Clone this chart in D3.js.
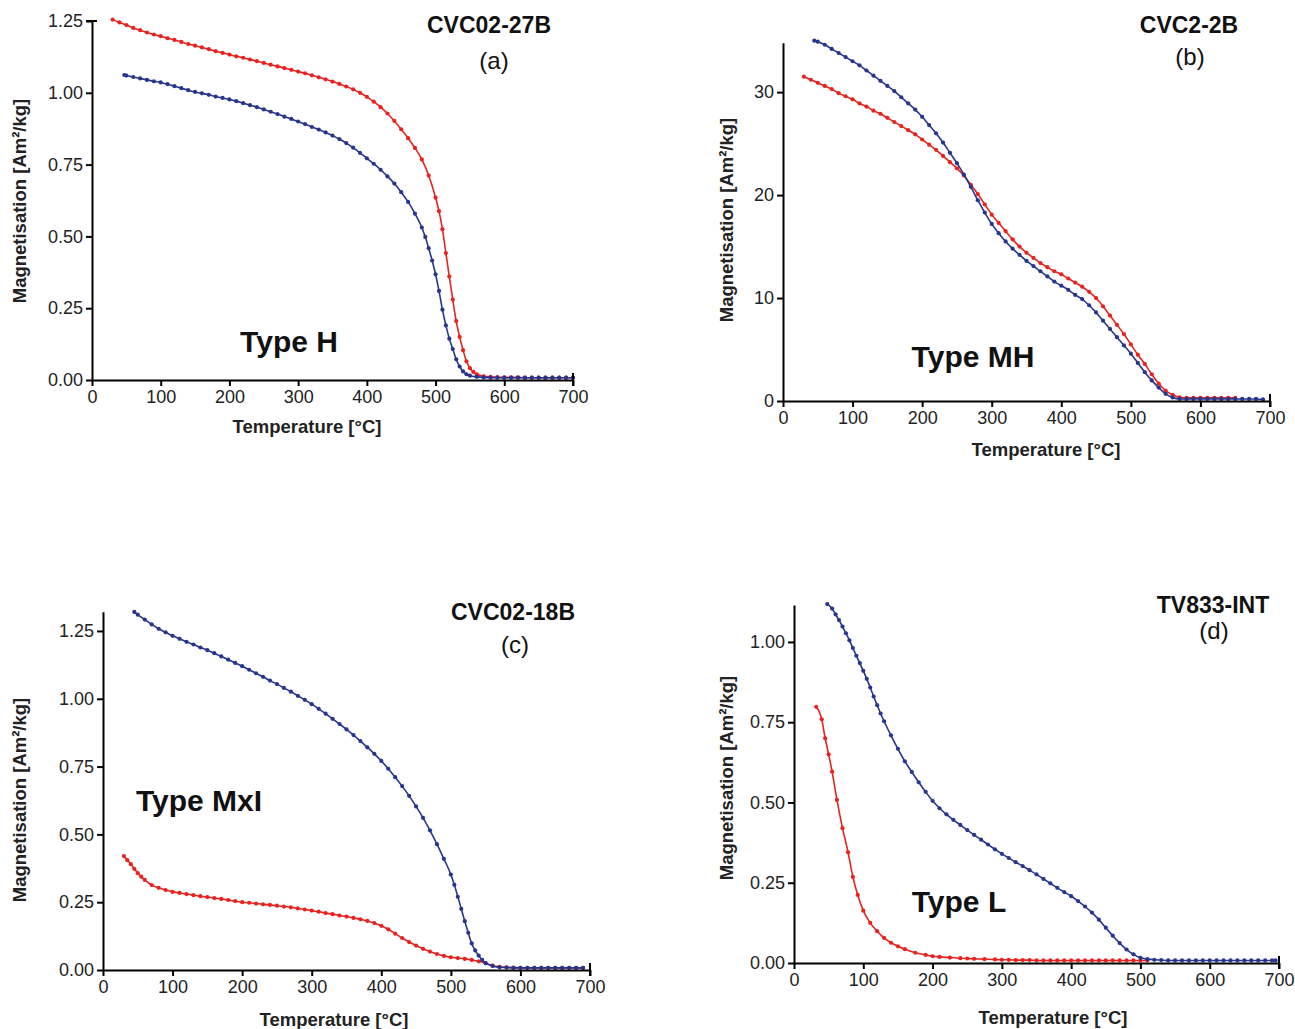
<!DOCTYPE html>
<html>
<head>
<meta charset="utf-8">
<script src="https://cdn.jsdelivr.net/npm/d3@7"></script>
<style>
  body { margin: 0; background: #fff; }
  svg text { font-family: 'Liberation Sans', Arial, sans-serif; }
</style>
</head>
<body>
<script>
/* global d3 */
var xTicks = [0, 100, 200, 300, 400, 500, 600, 700]
var yTicksFrac = [0, 0.25, 0.5, 0.75, 1.0, 1.25]
var yTicksB = [0, 10, 20, 30]
var yTicksD = [0, 0.25, 0.5, 0.75, 1.0]

// (a) CVC02-27B, Type H  [temperature, magnetisation]
var aRed = [[30, 1.255], [40, 1.245], [50, 1.236], [60, 1.226], [70, 1.218], [80, 1.210], [90, 1.203],
  [100, 1.197], [110, 1.190], [120, 1.184], [130, 1.177], [140, 1.170], [150, 1.164], [160, 1.158],
  [170, 1.152], [180, 1.145], [190, 1.139], [200, 1.133], [210, 1.127], [220, 1.122], [230, 1.116],
  [240, 1.110], [250, 1.104], [260, 1.098], [270, 1.092], [280, 1.086], [290, 1.080], [300, 1.074],
  [310, 1.068], [320, 1.061], [330, 1.054], [340, 1.047], [350, 1.039], [360, 1.031], [370, 1.022],
  [380, 1.012], [390, 1.000], [400, 0.986], [410, 0.969], [420, 0.950], [430, 0.928], [440, 0.902],
  [450, 0.873], [460, 0.842], [470, 0.808], [480, 0.768], [490, 0.712], [500, 0.635], [505, 0.588],
  [510, 0.525], [515, 0.442], [520, 0.360], [525, 0.280], [530, 0.205], [535, 0.150], [540, 0.104],
  [545, 0.065], [550, 0.041], [555, 0.028], [560, 0.020], [570, 0.013], [580, 0.011], [590, 0.010],
  [600, 0.009], [610, 0.009], [620, 0.009], [630, 0.008], [640, 0.008], [650, 0.008], [660, 0.008],
  [670, 0.008], [680, 0.008], [690, 0.008], [700, 0.008]]
var aBlue = [[47, 1.062], [50, 1.060], [60, 1.055], [70, 1.050], [80, 1.045], [90, 1.040], [100, 1.036],
  [110, 1.030], [120, 1.023], [130, 1.016], [140, 1.009], [150, 1.003], [160, 0.998], [170, 0.993],
  [180, 0.987], [190, 0.982], [200, 0.977], [210, 0.971], [220, 0.964], [230, 0.957], [240, 0.950],
  [250, 0.942], [260, 0.934], [270, 0.926], [280, 0.917], [290, 0.909], [300, 0.900], [310, 0.891],
  [320, 0.881], [330, 0.872], [340, 0.862], [350, 0.851], [360, 0.839], [370, 0.825], [380, 0.809],
  [390, 0.791], [400, 0.772], [410, 0.753], [420, 0.732], [430, 0.709], [440, 0.684], [450, 0.654],
  [460, 0.620], [470, 0.579], [480, 0.531], [485, 0.498], [490, 0.459], [495, 0.416], [500, 0.368],
  [505, 0.310], [510, 0.245], [515, 0.190], [520, 0.144], [525, 0.108], [530, 0.072], [535, 0.047],
  [540, 0.030], [545, 0.020], [550, 0.015], [560, 0.011], [570, 0.009], [580, 0.008], [590, 0.008],
  [600, 0.008], [610, 0.008], [620, 0.008], [630, 0.008], [640, 0.008], [650, 0.008], [660, 0.008],
  [670, 0.008], [680, 0.008], [690, 0.008], [700, 0.008]]

// (b) CVC2-2B, Type MH
var bRed = [[30, 31.5], [40, 31.2], [50, 30.9], [60, 30.6], [70, 30.3], [80, 29.9], [90, 29.6],
  [100, 29.3], [110, 28.9], [120, 28.6], [130, 28.2], [140, 27.9], [150, 27.5], [160, 27.1],
  [170, 26.7], [180, 26.3], [190, 25.9], [200, 25.4], [210, 24.9], [220, 24.4], [230, 23.8],
  [240, 23.2], [250, 22.6], [260, 21.9], [270, 21.0], [280, 20.1], [290, 19.1], [300, 18.1],
  [310, 17.3], [320, 16.5], [330, 15.7], [340, 15.0], [350, 14.4], [360, 13.9], [370, 13.4],
  [380, 13.0], [390, 12.6], [400, 12.3], [410, 11.9], [420, 11.5], [430, 11.1], [440, 10.6],
  [450, 10.0], [460, 9.2], [470, 8.3], [480, 7.4], [490, 6.5], [500, 5.5], [510, 4.5], [520, 3.6],
  [530, 2.6], [540, 1.7], [550, 1.0], [560, 0.6], [570, 0.35], [580, 0.3], [590, 0.3], [600, 0.3],
  [610, 0.3], [620, 0.3], [630, 0.3], [640, 0.3], [650, 0.3]]
var bBlue = [[45, 35.0], [50, 34.9], [60, 34.6], [70, 34.2], [80, 33.8], [90, 33.4], [100, 33.0],
  [110, 32.6], [120, 32.1], [130, 31.6], [140, 31.1], [150, 30.6], [160, 30.1], [170, 29.5],
  [180, 28.9], [190, 28.3], [200, 27.6], [210, 26.8], [220, 26.0], [230, 25.1], [240, 24.1],
  [250, 23.1], [260, 22.0], [270, 20.8], [280, 19.5], [290, 18.3], [300, 17.2], [310, 16.3],
  [320, 15.5], [330, 14.8], [340, 14.2], [350, 13.6], [360, 13.1], [370, 12.6], [380, 12.1],
  [390, 11.6], [400, 11.2], [410, 10.8], [420, 10.3], [430, 9.9], [440, 9.3], [450, 8.6],
  [460, 7.8], [470, 7.0], [480, 6.2], [490, 5.4], [500, 4.6], [510, 3.7], [520, 2.8], [530, 2.0],
  [540, 1.3], [550, 0.7], [560, 0.35], [570, 0.2], [580, 0.2], [590, 0.2], [600, 0.2], [610, 0.2],
  [620, 0.2], [630, 0.2], [640, 0.2], [650, 0.2], [660, 0.2], [670, 0.2], [680, 0.2], [690, 0.15]]

// (c) CVC02-18B, Type MxI
var cRed = [[30, 0.420], [35, 0.405], [40, 0.390], [45, 0.373], [50, 0.357], [55, 0.344], [60, 0.332],
  [70, 0.313], [80, 0.303], [90, 0.295], [100, 0.288], [110, 0.284], [120, 0.280], [130, 0.276],
  [140, 0.272], [150, 0.269], [160, 0.265], [170, 0.262], [180, 0.258], [190, 0.254], [200, 0.250],
  [210, 0.248], [220, 0.245], [230, 0.242], [240, 0.240], [250, 0.237], [260, 0.234], [270, 0.231],
  [280, 0.227], [290, 0.223], [300, 0.219], [310, 0.215], [320, 0.210], [330, 0.206], [340, 0.201],
  [350, 0.197], [360, 0.192], [370, 0.187], [380, 0.181], [390, 0.173], [400, 0.163], [410, 0.150],
  [420, 0.134], [430, 0.118], [440, 0.103], [450, 0.090], [460, 0.078], [470, 0.068], [480, 0.059],
  [490, 0.052], [500, 0.047], [510, 0.044], [520, 0.041], [530, 0.037], [540, 0.032], [550, 0.025],
  [560, 0.016], [570, 0.012], [580, 0.010], [590, 0.009], [600, 0.008], [610, 0.008], [620, 0.008],
  [630, 0.008], [640, 0.008], [650, 0.008], [660, 0.008], [670, 0.008], [680, 0.008], [690, 0.008]]
var cBlue = [[45, 1.320], [50, 1.310], [60, 1.292], [70, 1.274], [80, 1.258], [90, 1.245], [100, 1.232],
  [110, 1.221], [120, 1.210], [130, 1.200], [140, 1.189], [150, 1.179], [160, 1.168], [170, 1.156],
  [180, 1.144], [190, 1.132], [200, 1.120], [210, 1.107], [220, 1.094], [230, 1.081], [240, 1.067],
  [250, 1.054], [260, 1.040], [270, 1.026], [280, 1.011], [290, 0.996], [300, 0.980], [310, 0.963],
  [320, 0.945], [330, 0.926], [340, 0.907], [350, 0.887], [360, 0.866], [370, 0.844], [380, 0.821],
  [390, 0.797], [400, 0.771], [410, 0.742], [420, 0.711], [430, 0.678], [440, 0.642], [450, 0.603],
  [460, 0.561], [470, 0.515], [480, 0.464], [490, 0.410], [500, 0.352], [505, 0.314], [510, 0.270],
  [515, 0.225], [520, 0.180], [525, 0.137], [530, 0.098], [535, 0.072], [540, 0.053], [545, 0.037],
  [550, 0.025], [560, 0.015], [570, 0.010], [580, 0.009], [590, 0.008], [600, 0.008], [610, 0.008],
  [620, 0.008], [630, 0.008], [640, 0.008], [650, 0.008], [660, 0.008], [670, 0.008], [680, 0.008],
  [690, 0.008]]

// (d) TV833-INT, Type L
var dRed = [[32, 0.798], [40, 0.759], [45, 0.700], [50, 0.650], [55, 0.596], [62, 0.508], [70, 0.420],
  [78, 0.345], [85, 0.268], [92, 0.212], [100, 0.163], [110, 0.125], [120, 0.099], [130, 0.078],
  [140, 0.063], [150, 0.052], [160, 0.043], [175, 0.032], [190, 0.025], [200, 0.021], [210, 0.019],
  [225, 0.017], [240, 0.015], [250, 0.014], [260, 0.013], [275, 0.012], [290, 0.011], [300, 0.010],
  [310, 0.010], [320, 0.009], [330, 0.009], [340, 0.009], [350, 0.008], [360, 0.008], [370, 0.008],
  [380, 0.008], [390, 0.008], [400, 0.008], [410, 0.008], [420, 0.008], [430, 0.008], [440, 0.008],
  [450, 0.008], [460, 0.008], [470, 0.008], [480, 0.008], [490, 0.008], [500, 0.008], [510, 0.008]]
var dBlue = [[48, 1.118], [55, 1.104], [60, 1.086], [65, 1.068], [70, 1.048], [75, 1.027], [80, 1.005],
  [85, 0.981], [90, 0.957], [95, 0.934], [100, 0.910], [105, 0.885], [110, 0.858], [115, 0.830],
  [120, 0.803], [125, 0.777], [130, 0.753], [140, 0.709], [150, 0.667], [160, 0.628], [170, 0.595],
  [180, 0.563], [190, 0.533], [200, 0.505], [210, 0.482], [220, 0.463], [230, 0.446], [240, 0.430],
  [250, 0.414], [260, 0.399], [270, 0.384], [280, 0.369], [290, 0.354], [300, 0.340], [310, 0.327],
  [320, 0.314], [330, 0.302], [340, 0.289], [350, 0.276], [360, 0.262], [370, 0.248], [380, 0.234],
  [390, 0.221], [400, 0.208], [410, 0.193], [420, 0.176], [430, 0.157], [440, 0.135], [450, 0.110],
  [460, 0.085], [470, 0.062], [480, 0.042], [490, 0.027], [500, 0.016], [510, 0.012], [520, 0.010],
  [530, 0.009], [540, 0.008], [550, 0.008], [560, 0.008], [570, 0.008], [580, 0.008], [590, 0.008],
  [600, 0.008], [610, 0.008], [620, 0.008], [630, 0.008], [640, 0.008], [650, 0.008], [660, 0.008],
  [670, 0.008], [680, 0.008], [690, 0.008], [695, 0.008]]

var red = '#e8221f'
var blue = '#26368e'
var yLabel = 'Magnetisation [Am\u00b2/kg]'
var xLabel = 'Temperature [\u00b0C]'

var panels = [
  { id: 'a', sample: 'CVC02-27B', type: 'Type H', red: aRed, blue: aBlue, yTicks: yTicksFrac, fmt: '.2f',
    yMax: 1.25, x0: 92, x1: 573, y0: 380, y1: 21, topCross: true,
    title: [489, 25], letter: [494, 61], typePos: [289, 341], xLab: [307, 427], yLab: [20, 201] },
  { id: 'b', sample: 'CVC2-2B', type: 'Type MH', red: bRed, blue: bBlue, yTicks: yTicksB, fmt: 'd',
    yMax: 34.8, x0: 783, x1: 1270, y0: 401, y1: 42.7, topCross: false,
    title: [1189, 25], letter: [1190, 57], typePos: [973, 356], xLab: [1046, 450], yLab: [727, 220] },
  { id: 'c', sample: 'CVC02-18B', type: 'Type MxI', red: cRed, blue: cBlue, yTicks: yTicksFrac, fmt: '.2f',
    yMax: 1.321, x0: 103, x1: 590, y0: 970, y1: 611.7, topCross: false,
    title: [513, 612], letter: [515, 645], typePos: [199, 800], xLab: [334, 1020], yLab: [20, 800] },
  { id: 'd', sample: 'TV833-INT', type: 'Type L', red: dRed, blue: dBlue, yTicks: yTicksD, fmt: '.2f',
    yMax: 1.115, x0: 794, x1: 1279, y0: 963, y1: 605, topCross: false,
    title: [1213, 605], letter: [1214, 631], typePos: [959, 901], xLab: [1053, 1018], yLab: [727, 778] }
]

var svg = d3.select('body').append('svg')
  .attr('width', 1295)
  .attr('height', 1029)

panels.forEach(drawPanel)

function drawPanel (p) {
  var g = svg.append('g').attr('class', 'panel-' + p.id)
  var x = d3.scaleLinear().domain([0, 700]).range([p.x0, p.x1])
  var y = d3.scaleLinear().domain([0, p.yMax]).range([p.y0, p.y1])

  var line = d3.line()
    .x(function (d) { return x(d[0]) })
    .y(function (d) { return y(d[1]) })
    .curve(d3.curveMonotoneX)

  drawSeries(p.red, red)
  drawSeries(p.blue, blue)

  function drawSeries (data, color) {
    g.append('path')
      .datum(data)
      .attr('d', line)
      .attr('fill', 'none')
      .attr('stroke', color)
      .attr('stroke-width', 1.6)
    g.append('g').selectAll('circle')
      .data(data)
      .enter().append('circle')
      .attr('cx', function (d) { return x(d[0]) })
      .attr('cy', function (d) { return y(d[1]) })
      .attr('r', 2.1)
      .attr('fill', color)
  }

  var xAxis = g.append('g')
    .attr('transform', 'translate(0,' + p.y0 + ')')
    .call(d3.axisBottom(x).tickValues(xTicks).tickSize(6).tickSizeOuter(0).tickPadding(4))
  var yAxis = g.append('g')
    .attr('transform', 'translate(' + p.x0 + ',0)')
    .call(d3.axisLeft(y).tickValues(p.yTicks).tickSize(6).tickSizeOuter(0).tickPadding(3)
      .tickFormat(d3.format(p.fmt)))

  ;[xAxis, yAxis].forEach(function (ax) {
    ax.select('.domain').attr('stroke', '#000').attr('stroke-width', 2)
    ax.selectAll('.tick line').attr('stroke', '#000').attr('stroke-width', 2)
    ax.selectAll('.tick text')
      .attr('fill', '#222')
      .style('font-size', '18px')
  })

  // end bar at 700
  g.append('line')
    .attr('x1', x(700)).attr('x2', x(700))
    .attr('y1', p.y0 - 7).attr('y2', p.y0 + 6)
    .attr('stroke', '#000').attr('stroke-width', 2)
  if (p.topCross) {
    g.append('line')
      .attr('x1', p.x0 - 6).attr('x2', p.x0 + 5)
      .attr('y1', p.y1).attr('y2', p.y1)
      .attr('stroke', '#000').attr('stroke-width', 2)
  }

  g.append('text')
    .attr('x', p.xLab[0]).attr('y', p.xLab[1])
    .attr('dy', '0.35em')
    .attr('text-anchor', 'middle')
    .style('font-size', '18.5px').style('font-weight', 'bold')
    .attr('fill', '#222')
    .text(xLabel)

  g.append('text')
    .attr('transform', 'translate(' + p.yLab[0] + ',' + p.yLab[1] + ') rotate(-90)')
    .attr('dy', '0.35em')
    .attr('text-anchor', 'middle')
    .style('font-size', '18.5px').style('font-weight', 'bold')
    .attr('fill', '#222')
    .text(yLabel)

  g.append('text')
    .attr('x', p.title[0]).attr('y', p.title[1])
    .attr('dy', '0.35em')
    .attr('text-anchor', 'middle')
    .style('font-size', '23px').style('font-weight', 'bold')
    .attr('fill', '#111')
    .text(p.sample)

  g.append('text')
    .attr('x', p.letter[0]).attr('y', p.letter[1])
    .attr('dy', '0.35em')
    .attr('text-anchor', 'middle')
    .style('font-size', '24px')
    .attr('fill', '#111')
    .text('(' + p.id + ')')

  g.append('text')
    .attr('x', p.typePos[0]).attr('y', p.typePos[1])
    .attr('dy', '0.35em')
    .attr('text-anchor', 'middle')
    .style('font-size', '30px').style('font-weight', 'bold')
    .attr('fill', '#111')
    .text(p.type)
}
</script>
</body>
</html>
